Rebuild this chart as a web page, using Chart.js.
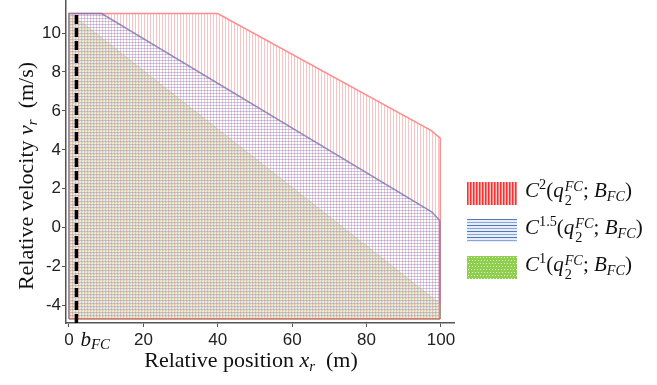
<!DOCTYPE html>
<html lang="en">
<head>
  <meta charset="UTF-8" />
  <title>Reachable sets</title>
  <script src="https://cdn.jsdelivr.net/npm/chart.js"></script>
  <style>
    * { margin: 0; padding: 0; box-sizing: border-box; }
    body { width: 657px; height: 385px; background: #fff; overflow: hidden; }
    .wrap { position: relative; width: 657px; height: 385px; }
    .legend {
      position: absolute;
      left: 467px;
      top: 175px;
      font-family: 'Liberation Serif', 'Times New Roman', serif;
      font-size: 21px;
      color: #111;
    }
    .legend .row { display: flex; align-items: center; height: 37px; line-height: 1; }
    .legend canvas.sw { width: 50px; height: 23px; margin-right: 8px; flex: none; display: block; }
    .m { font-style: italic; }
    .ss { display: inline-flex; flex-direction: column; vertical-align: 0.42em; font-size: 0.68em; line-height: 0.95; margin-left: 1px; }
    sup.p { font-size: 0.68em; vertical-align: 0.55em; line-height: 0; }
    sub.p { font-size: 0.68em; vertical-align: -0.3em; line-height: 0; }
  </style>
</head>
<body>
  <div class="wrap">
    <canvas id="chart"></canvas>
    <div class="legend">
      <div class="row"><canvas class="sw" id="swRed" width="50" height="23"></canvas><span><span class="m">C</span><sup class="p">2</sup>(<span class="m">q</span><span class="ss"><span class="m">FC</span><span>2</span></span>; <span class="m">B</span><sub class="p m">FC</sub>)</span></div>
      <div class="row"><canvas class="sw" id="swBlue" width="50" height="23"></canvas><span><span class="m">C</span><sup class="p">1.5</sup>(<span class="m">q</span><span class="ss"><span class="m">FC</span><span>2</span></span>; <span class="m">B</span><sub class="p m">FC</sub>)</span></div>
      <div class="row"><canvas class="sw" id="swGreen" width="50" height="23"></canvas><span><span class="m">C</span><sup class="p">1</sup>(<span class="m">q</span><span class="ss"><span class="m">FC</span><span>2</span></span>; <span class="m">B</span><sub class="p m">FC</sub>)</span></div>
    </div>
  </div>

  <script>
    // region boundaries (position m, velocity m/s)
    const c2X = [0, 0, 40, 97.3, 99.8, 99.8];
    const c2V = [-4.7, 11, 11, 5.0, 4.6, -4.7];
    const c15X = [0, 0, 8.8, 97.6, 99.7, 99.7];
    const c15V = [-4.7, 11, 11, 0.8, 0.35, -4.7];
    const c1X = [0, 0, 0.5, 99.7, 99.7];
    const c1V = [-4.7, 11, 11, -3.9, -4.7];
    const baseX = [0, 99.8];
    const baseV = [-4.7, -4.7];
    const bFcX = [2, 2];
    const bFcV = [-4.9, 10.95];

    const xTicks = [0, 20, 40, 60, 80, 100];
    const yTicks = [-4, -2, 0, 2, 4, 6, 8, 10];

    const pts = (xs, ys) => xs.map((x, i) => ({ x: x, y: ys[i] }));

    function makePattern(w, h, draw) {
      const c = document.createElement('canvas');
      c.width = w; c.height = h;
      const g = c.getContext('2d');
      draw(g);
      return g.createPattern(c, 'repeat');
    }

    const redHatch = makePattern(3, 1, g => {
      g.fillStyle = 'rgba(255,120,120,0.45)';
      g.fillRect(0, 0, 1, 1);
    });
    const blueHatch = makePattern(1, 3, g => {
      g.fillStyle = 'rgba(90,115,215,0.36)';
      g.fillRect(0, 0, 1, 1);
    });
    const greenHatch = makePattern(3, 3, g => {
      g.fillStyle = 'rgba(170,180,100,0.24)';
      g.fillRect(0, 0, 3, 3);
      g.fillStyle = 'rgba(140,170,70,0.25)';
      g.fillRect(1, 1, 1, 1);
    });

    // legend swatches
    function swatch(id, bg, draw) {
      const g = document.getElementById(id).getContext('2d');
      g.fillStyle = bg;
      g.fillRect(0, 0, 50, 23);
      draw(g);
    }
    swatch('swRed', '#ffc4c4', g => {
      for (let x = 0; x < 50; x += 3) {
        g.fillStyle = '#ff2e2e';
        g.fillRect(x, 0, 1.5, 23);
      }
    });
    swatch('swBlue', '#e6edf8', g => {
      for (let y = 0; y < 23; y += 3) {
        g.fillStyle = (y / 3) % 2 ? '#8aa6d6' : '#4f78bd';
        g.fillRect(0, y, 50, 1);
      }
    });
    swatch('swGreen', '#8ed04e', g => {
      g.fillStyle = '#e4f4d2';
      for (let y = 1; y < 23; y += 3) {
        for (let x = (y % 2) ? 1 : 2; x < 50; x += 3) g.fillRect(x, y, 1, 1);
      }
    });

    const TICK = '#222';
    const AXIS = '#555';

    // axis titles and the b_FC label, drawn with mixed italic/subscript text
    const mathText = {
      id: 'mathText',
      afterDraw(chart) {
        const ctx = chart.ctx;
        const xs = chart.scales.x;
        ctx.save();
        ctx.fillStyle = '#111';
        ctx.textBaseline = 'alphabetic';

        function runs(parts) {
          let w = 0;
          parts.forEach(p => { ctx.font = p.f; w += ctx.measureText(p.t).width; });
          return w;
        }
        function drawRuns(parts, x, y) {
          parts.forEach(p => {
            ctx.font = p.f;
            ctx.fillText(p.t, x, y + (p.dy || 0));
            x += ctx.measureText(p.t).width;
          });
        }
        const up = '22px "Liberation Serif", serif';
        const it = 'italic 22px "Liberation Serif", serif';
        const sm = 'italic 15px "Liberation Serif", serif';

        const xt = [
          { t: 'Relative position ', f: up },
          { t: 'x', f: it },
          { t: 'r', f: sm, dy: 4 },
          { t: '  (m)', f: up }
        ];
        drawRuns(xt, 251 - runs(xt) / 2, 367);

        const yt = [
          { t: 'Relative velocity ', f: up },
          { t: 'v', f: it },
          { t: 'r', f: sm, dy: 4 },
          { t: '  (m/s)', f: up }
        ];
        ctx.save();
        ctx.translate(33, 176);
        ctx.rotate(-Math.PI / 2);
        drawRuns(yt, -runs(yt) / 2, 0);
        ctx.restore();

        const bx = xs.getPixelForValue(bFcX[0]) + 4;
        drawRuns([
          { t: 'b', f: 'italic 21px "Liberation Serif", serif' },
          { t: 'FC', f: 'italic 15px "Liberation Serif", serif', dy: 3 }
        ], bx, 346);
        ctx.restore();
      }
    };

    const ctx = document.getElementById('chart').getContext('2d');

    new Chart(ctx, {
      type: 'line',
      data: {
        datasets: [
          {
            data: pts(bFcX, bFcV),
            borderColor: '#000',
            borderWidth: 3.5,
            borderDash: [9, 4],
            pointRadius: 0,
            fill: false,
            clip: false
          },
          {
            data: pts(baseX, baseV),
            borderColor: 'rgba(190,100,80,0.85)',
            borderWidth: 1.5,
            pointRadius: 0,
            fill: false
          },
          {
            data: pts(c1X, c1V),
            borderColor: 'rgba(160,185,110,0.35)',
            borderWidth: 1,
            backgroundColor: greenHatch,
            pointRadius: 0,
            fill: { value: -4.7 }
          },
          {
            data: pts(c15X, c15V),
            borderColor: 'rgba(110,110,175,0.75)',
            borderWidth: 1.5,
            backgroundColor: blueHatch,
            pointRadius: 0,
            fill: { value: -4.7 }
          },
          {
            data: pts(c2X, c2V),
            borderColor: 'rgba(255,130,130,0.9)',
            borderWidth: 1.5,
            backgroundColor: redHatch,
            pointRadius: 0,
            fill: { value: -4.7 }
          }
        ]
      },
      options: {
        responsive: true,
        maintainAspectRatio: false,
        animation: false,
        layout: { padding: { left: 0, right: 203, top: 0, bottom: 0 } },
        plugins: {
          legend: { display: false },
          tooltip: { enabled: false }
        },
        elements: { line: { tension: 0 } },
        scales: {
          x: {
            type: 'linear',
            min: -0.8,
            max: 103.5,
            afterBuildTicks: s => { s.ticks = xTicks.map(v => ({ value: v })); },
            afterFit: s => { s.height = 62; s.paddingLeft = 0; s.paddingRight = 0; },
            border: { color: AXIS, width: 1.5 },
            grid: { drawOnChartArea: false, drawTicks: true, tickLength: 4, color: AXIS },
            ticks: {
              color: TICK,
              padding: 3,
              maxRotation: 0,
              font: { family: '"Liberation Sans", Arial, sans-serif', size: 17 }
            }
          },
          y: {
            min: -4.9,
            max: 11.7,
            afterBuildTicks: s => { s.ticks = yTicks.map(v => ({ value: v })); },
            afterFit: s => { s.width = 66; s.paddingTop = 0; s.paddingBottom = 0; },
            border: { color: AXIS, width: 1.5 },
            grid: { drawOnChartArea: false, drawTicks: true, tickLength: 4, color: AXIS },
            ticks: {
              color: TICK,
              padding: 1,
              font: { family: '"Liberation Sans", Arial, sans-serif', size: 17 }
            }
          }
        }
      },
      plugins: [mathText]
    });
  </script>
</body>
</html>
